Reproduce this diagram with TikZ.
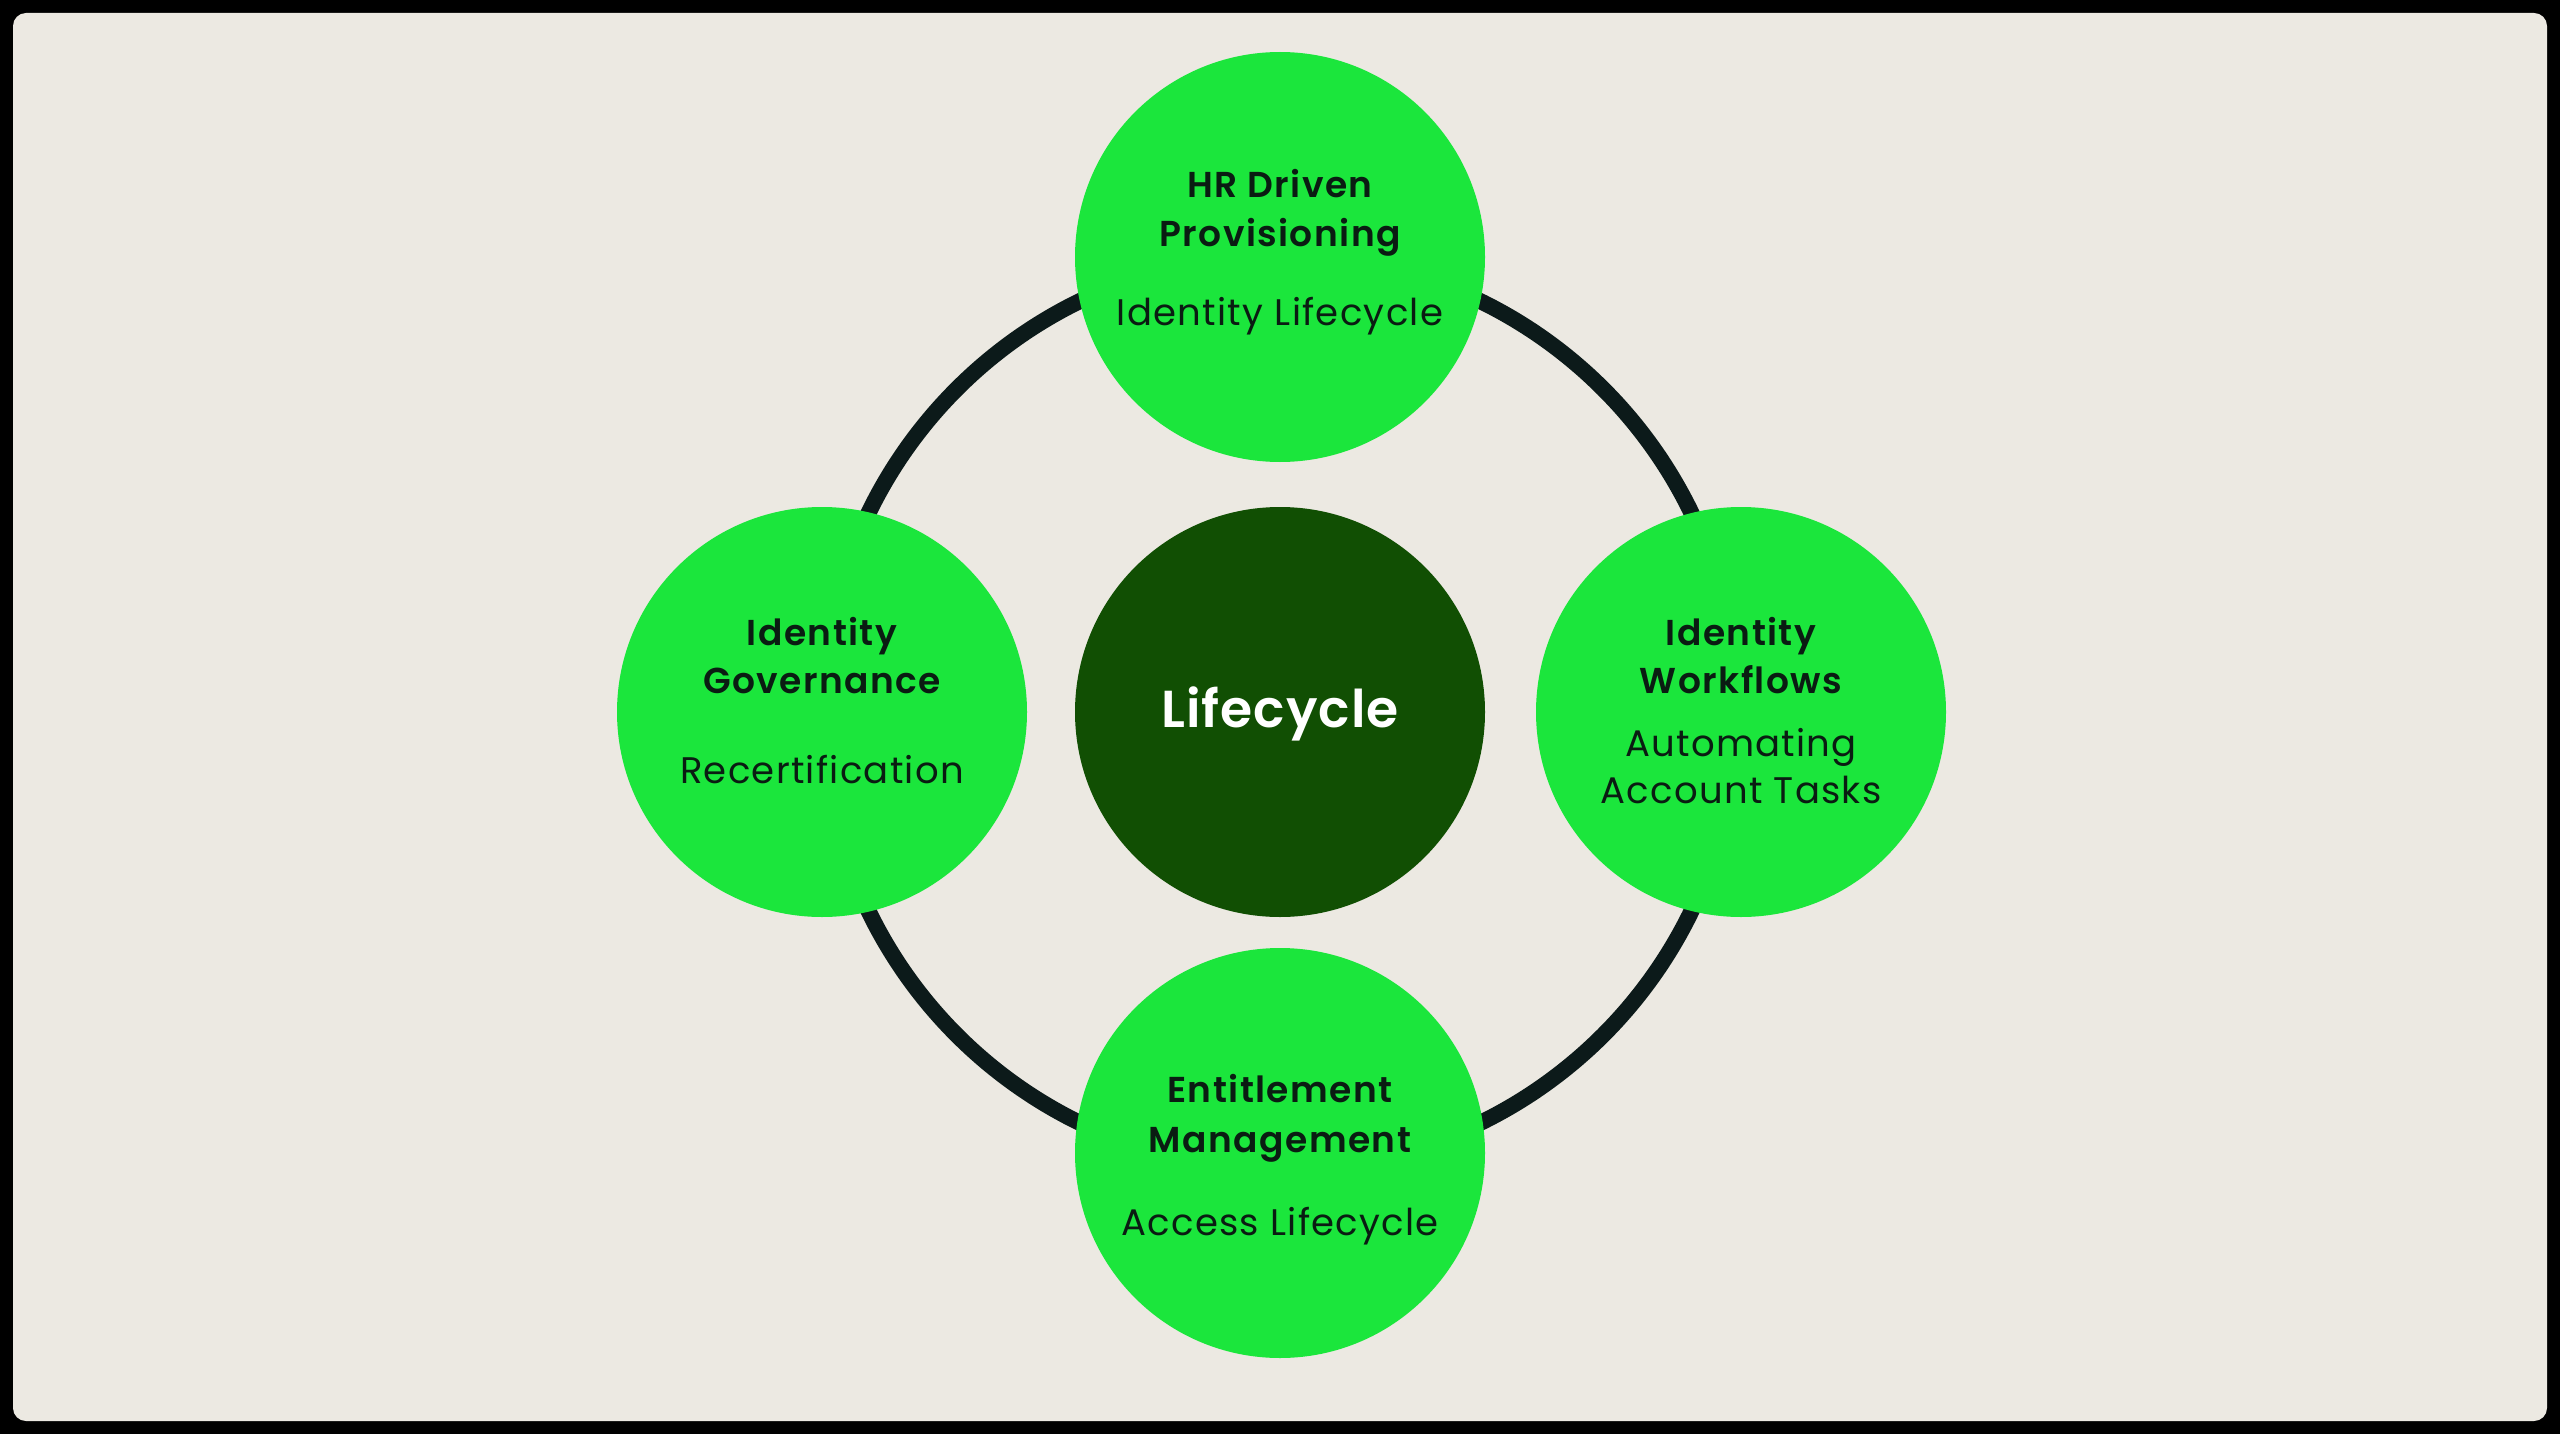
\documentclass[tikz,border=0pt]{standalone}
\usepackage{fontspec}
\setmainfont{Poppins}
\newfontfamily\ttlfont[LetterSpace=4.0]{Poppins SemiBold}
\newfontfamily\ctrfont[LetterSpace=2.0]{Poppins SemiBold}
\newfontfamily\subfont[LetterSpace=3.5]{Poppins}
\definecolor{bgc}{HTML}{ECE9E2}
\definecolor{ringc}{HTML}{0C1A1A}
\definecolor{brightg}{HTML}{1BE63C}
\definecolor{darkg}{HTML}{114F03}
\definecolor{txtc}{HTML}{0A1C12}
\tikzset{
  gcirc/.style={circle, fill=brightg, minimum size=410pt, inner sep=0pt},
  dcirc/.style={circle, fill=darkg, minimum size=410pt, inner sep=0pt},
  ttl/.style={anchor=base, inner sep=0pt, text=txtc, font=\ttlfont\fontsize{36}{40}\selectfont},
  sub/.style={anchor=base, inner sep=0pt, text=txtc, font=\subfont\fontsize{37}{40}\selectfont},
  ctr/.style={anchor=base, inner sep=0pt, text=white, font=\ctrfont\fontsize{52}{56}\selectfont}
}
\begin{document}
\begin{tikzpicture}[x=1pt,y=-1pt]
\useasboundingbox (0,0) rectangle (2560,1434);
\fill[black] (0,0) rectangle (2560,1434);
\fill[bgc, rounded corners=13pt] (13,13) rectangle (2547,1421);
\coordinate (O) at (1280,712);
\draw[ringc, line width=16pt] (O) circle[radius=457];
\node[gcirc] (top) at (1280,257) {};
\node[gcirc] (left) at (822,712) {};
\node[gcirc] (right) at (1741,712) {};
\node[gcirc] (bot) at (1280,1153) {};
\node[dcirc] (mid) at (O) {};
% top
\path (top) ++(0,-59) node[ttl] (t1) {HR Driven};
\path (top) ++(0,-10) node[ttl] (t2) {Provisioning};
\path (top) ++(0,68) node[sub] (t3) {Identity Lifecycle};
% left
\path (left) ++(0,-67) node[ttl] (l1) {Identity};
\path (left) ++(0,-19) node[ttl] (l2) {Governance};
\path (left) ++(0,71) node[sub] (l3) {Recertification};
% right
\path (right) ++(0,-67) node[ttl] (r1) {Identity};
\path (right) ++(0,-19) node[ttl] (r2) {Workflows};
\path (right) ++(0,44) node[sub] (r3) {Automating};
\path (right) ++(0,91) node[sub] (r4) {Account Tasks};
% bottom
\path (bot) ++(0,-51) node[ttl] (b1) {Entitlement};
\path (bot) ++(0,-1) node[ttl] (b2) {Management};
\path (bot) ++(0,82) node[sub] (b3) {Access Lifecycle};
% center
\path (mid) ++(0,15) node[ctr] (c1) {Lifecycle};
\end{tikzpicture}
\end{document}
